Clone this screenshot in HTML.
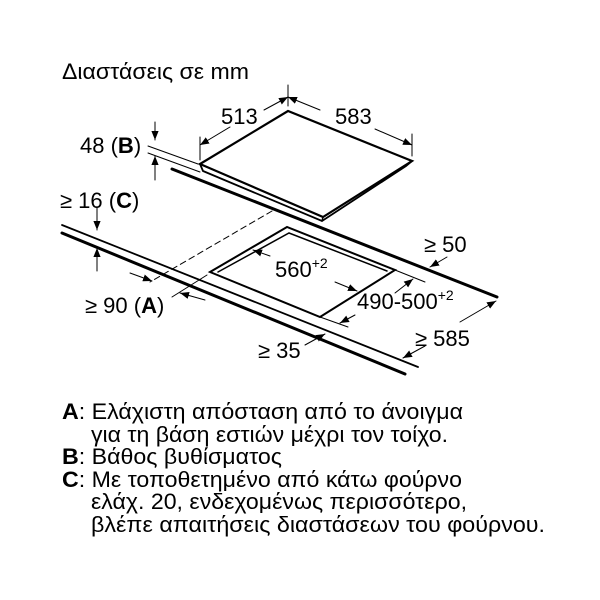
<!DOCTYPE html>
<html><head><style>body{margin:0;background:#fff}svg{display:block}text{font-family:"Liberation Sans",sans-serif;fill:#000}</style></head>
<body>
<svg width="600" height="600" viewBox="0 0 600 600" xmlns="http://www.w3.org/2000/svg">
<defs>
<marker id="a" viewBox="0 0 10 10" refX="10" refY="5" markerWidth="9" markerHeight="9" orient="auto" markerUnits="userSpaceOnUse"><path d="M0,1 L10,5 L0,9 z" fill="#000"/></marker>
</defs>
<g font-size="22">
<text x="62" y="79" textLength="187" lengthAdjust="spacingAndGlyphs">Διαστάσεις σε mm</text>
<text x="221" y="124">513</text>
<text x="335" y="124">583</text>
<text x="80" y="153">48 (<tspan font-weight="bold">B</tspan>)</text>
<text x="60" y="208">≥ 16 (<tspan font-weight="bold">C</tspan>)</text>
<text x="424" y="252">≥ 50</text>
<text x="275" y="277">560<tspan font-size="14" dy="-9">+2</tspan></text>
<text x="357" y="309">490-500<tspan font-size="14" dy="-9">+2</tspan></text>
<text x="85" y="313">≥ 90 (<tspan font-weight="bold">A</tspan>)</text>
<text x="415" y="346">≥ 585</text>
<text x="258" y="358">≥ 35</text>
</g>
<g stroke="#000" fill="none" stroke-linecap="round">
<path d="M200,164 L288,111 L412,161 L323,217 Z" stroke-width="2.2"/>
<path d="M200,164 L203,171 L322,221 L406,166 L412,161" stroke-width="1.8"/>
<path d="M323,217 L322,221" stroke-width="1.5"/>
<path d="M172,169 L497,297" stroke-width="3"/>
<path d="M62,225 L418,367" stroke-width="1.8"/>
<path d="M62,233 L405,374" stroke-width="3"/>
<path d="M287,227 L210,272 L320,317 L395,270 Z" stroke-width="2"/>
<path d="M218,272 L289,233 L387,271" stroke-width="1.5"/>
<path d="M272,211 L150,282" stroke-width="1" stroke-dasharray="6,4"/>
<g stroke-width="1">
<path d="M148,146 L198,164"/><path d="M148,153 L200,172"/>
<path d="M200,137 L200,160"/><path d="M288,85 L288,106"/><path d="M412,134 L412,156"/>
<path d="M207,275 L172,297"/>
<path d="M395,270 L425,282"/><path d="M320,317 L348,327"/>
<path d="M155,122 L155,140" marker-end="url(#a)"/>
<path d="M155,180 L155,156" marker-end="url(#a)"/>
<path d="M97,208 L97,230" marker-end="url(#a)"/>
<path d="M97,271 L97,248" marker-end="url(#a)"/>
<path d="M230,127 L200,145" marker-end="url(#a)"/>
<path d="M264,110 L288,97" marker-end="url(#a)"/>
<path d="M320,110 L288,97" marker-end="url(#a)"/>
<path d="M375,129 L412,145" marker-end="url(#a)"/>
<path d="M130,273 L152,281" marker-end="url(#a)"/>
<path d="M205,300 L180,293" marker-end="url(#a)"/>
<path d="M270,256 L253,250" marker-end="url(#a)"/>
<path d="M335,282 L357,291" marker-end="url(#a)"/>
<path d="M395,293 L413,279" marker-end="url(#a)"/>
<path d="M355,315 L340,323" marker-end="url(#a)"/>
<path d="M447,257 L430,267" marker-end="url(#a)"/>
<path d="M460,322 L496,301" marker-end="url(#a)"/>
<path d="M425,346 L403,358" marker-end="url(#a)"/>
<path d="M305,345 L325,334" marker-end="url(#a)"/>
</g>
</g>
<g font-size="22">
<text x="62" y="419" textLength="401" lengthAdjust="spacingAndGlyphs"><tspan font-weight="bold">A</tspan>: Ελάχιστη απόσταση από το άνοιγμα</text>
<text x="91" y="442" textLength="357" lengthAdjust="spacingAndGlyphs">για τη βάση εστιών μέχρι τον τοίχο.</text>
<text x="62" y="464" textLength="220" lengthAdjust="spacingAndGlyphs"><tspan font-weight="bold">B</tspan>: Βάθος βυθίσματος</text>
<text x="62" y="487" textLength="400" lengthAdjust="spacingAndGlyphs"><tspan font-weight="bold">C</tspan>: Με τοποθετημένο από κάτω φούρνο</text>
<text x="91" y="509" textLength="376" lengthAdjust="spacingAndGlyphs">ελάχ. 20, ενδεχομένως περισσότερο,</text>
<text x="91" y="532" textLength="454" lengthAdjust="spacingAndGlyphs">βλέπε απαιτήσεις διαστάσεων του φούρνου.</text>
</g>
</svg>
</body></html>
